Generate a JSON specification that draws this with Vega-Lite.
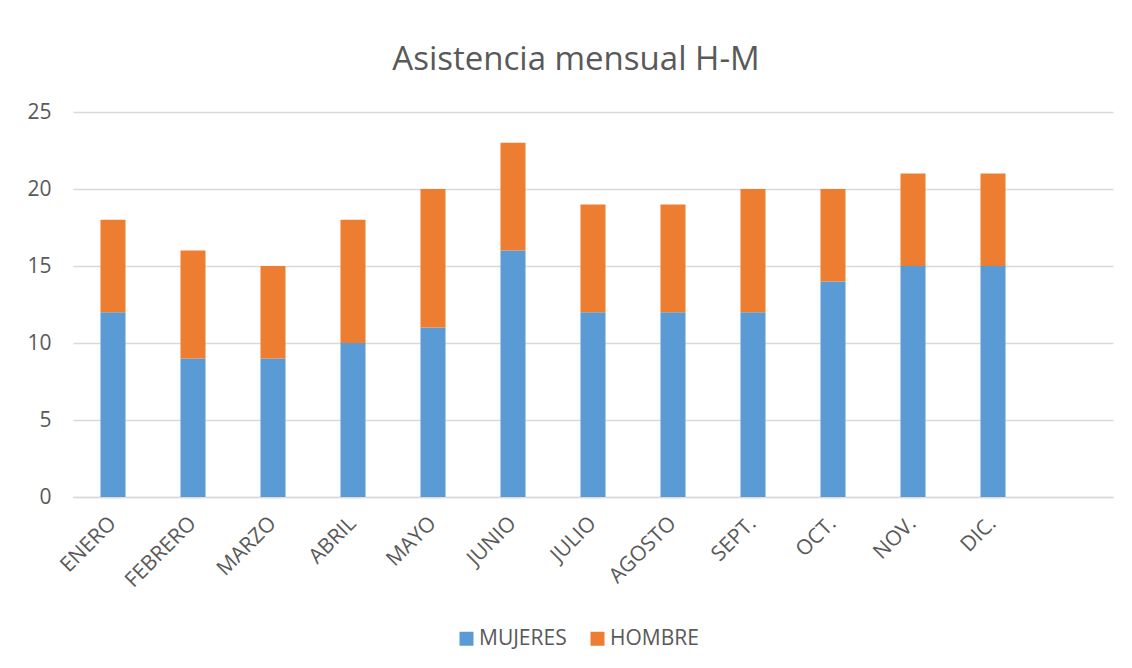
{
  "$schema": "https://vega.github.io/schema/vega-lite/v6.json",
  "autosize": {"type": "none"},
  "padding": {"left": 73, "top": 112, "right": 19, "bottom": 171},
  "width": 1040,
  "height": 385,
  "background": "white",
  "title": {
    "text": "Asistencia mensual H-M",
    "font": "Open Sans",
    "fontSize": 33,
    "fontWeight": "normal",
    "color": "#595959",
    "anchor": "middle",
    "dx": -17,
    "offset": 24
  },
  "data": {
    "values": [
      {"mes": "ENERO", "sexo": "MUJERES", "asistencia": 12},
      {"mes": "ENERO", "sexo": "HOMBRE", "asistencia": 6},
      {"mes": "FEBRERO", "sexo": "MUJERES", "asistencia": 9},
      {"mes": "FEBRERO", "sexo": "HOMBRE", "asistencia": 7},
      {"mes": "MARZO", "sexo": "MUJERES", "asistencia": 9},
      {"mes": "MARZO", "sexo": "HOMBRE", "asistencia": 6},
      {"mes": "ABRIL", "sexo": "MUJERES", "asistencia": 10},
      {"mes": "ABRIL", "sexo": "HOMBRE", "asistencia": 8},
      {"mes": "MAYO", "sexo": "MUJERES", "asistencia": 11},
      {"mes": "MAYO", "sexo": "HOMBRE", "asistencia": 9},
      {"mes": "JUNIO", "sexo": "MUJERES", "asistencia": 16},
      {"mes": "JUNIO", "sexo": "HOMBRE", "asistencia": 7},
      {"mes": "JULIO", "sexo": "MUJERES", "asistencia": 12},
      {"mes": "JULIO", "sexo": "HOMBRE", "asistencia": 7},
      {"mes": "AGOSTO", "sexo": "MUJERES", "asistencia": 12},
      {"mes": "AGOSTO", "sexo": "HOMBRE", "asistencia": 7},
      {"mes": "SEPT.", "sexo": "MUJERES", "asistencia": 12},
      {"mes": "SEPT.", "sexo": "HOMBRE", "asistencia": 8},
      {"mes": "OCT.", "sexo": "MUJERES", "asistencia": 14},
      {"mes": "OCT.", "sexo": "HOMBRE", "asistencia": 6},
      {"mes": "NOV.", "sexo": "MUJERES", "asistencia": 15},
      {"mes": "NOV.", "sexo": "HOMBRE", "asistencia": 6},
      {"mes": "DIC.", "sexo": "MUJERES", "asistencia": 15},
      {"mes": "DIC.", "sexo": "HOMBRE", "asistencia": 6}
    ]
  },
  "mark": {"type": "bar"},
  "encoding": {
    "x": {
      "field": "mes",
      "type": "nominal",
      "title": null,
      "scale": {
        "domain": ["ENERO", "FEBRERO", "MARZO", "ABRIL", "MAYO", "JUNIO", "JULIO", "AGOSTO", "SEPT.", "OCT.", "NOV.", "DIC.", " "],
        "paddingInner": 0.6875,
        "paddingOuter": 0.34375
      },
      "axis": {
        "labelAngle": -45,
        "labelAlign": "right",
        "labelBaseline": "middle",
        "labelFont": "Open Sans",
        "labelFontSize": 21,
        "labelColor": "#595959",
        "labelPadding": 23,
        "ticks": false,
        "domainColor": "#d9d9d9",
        "domainWidth": 1.5,
        "grid": false
      }
    },
    "y": {
      "field": "asistencia",
      "type": "quantitative",
      "aggregate": "sum",
      "stack": "zero",
      "title": null,
      "scale": {"domain": [0, 25], "nice": false},
      "axis": {
        "values": [0, 5, 10, 15, 20, 25],
        "labelFont": "Open Sans",
        "labelFontSize": 21,
        "labelColor": "#595959",
        "labelPadding": 22,
        "ticks": false,
        "domain": false,
        "gridColor": "#d9d9d9",
        "gridWidth": 1.5
      }
    },
    "color": {
      "field": "sexo",
      "type": "nominal",
      "sort": ["MUJERES", "HOMBRE"],
      "scale": {"domain": ["MUJERES", "HOMBRE"], "range": ["#5B9BD5", "#ED7D31"]},
      "legend": {
        "title": null,
        "orient": "none",
        "direction": "horizontal",
        "legendX": 383,
        "legendY": 516,
        "symbolType": "square",
        "symbolSize": 196,
        "symbolStrokeWidth": 0,
        "labelFont": "Open Sans",
        "labelFontSize": 21,
        "labelColor": "#595959",
        "labelOffset": 2,
        "columnPadding": 20
      }
    },
    "order": {"field": "sexo", "sort": "descending"}
  },
  "config": {"view": {"stroke": null}}
}
